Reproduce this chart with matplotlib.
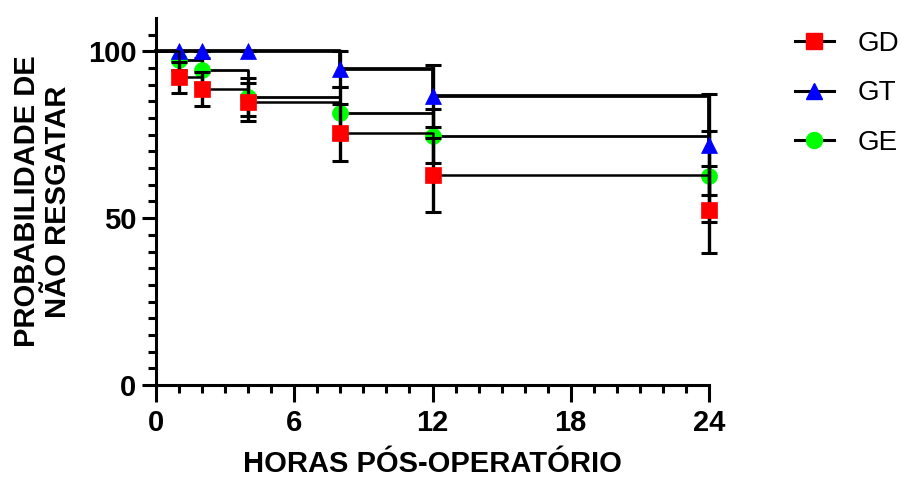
import matplotlib
matplotlib.use("Agg")
import matplotlib.pyplot as plt
from matplotlib.lines import Line2D
from matplotlib.ticker import FixedLocator

# hours after surgery (0 = start of curve, markers from 1 h on)
hours = [0, 1, 2, 4, 8, 12, 24]

# probability of no rescue (%) and error bars
gd = [100, 92.2, 88.7, 84.8, 75.6, 63.0, 52.5]
gd_err = [0, 4.7, 5.2, 5.8, 8.6, 11.0, 13.0]
gt = [100, 100, 100, 100, 94.6, 86.6, 72.0]
gt_err = [0, 0, 0, 0, 5.4, 9.2, 15.2]
ge = [100, 97.3, 94.3, 86.3, 81.6, 74.6, 62.5]
ge_err = [0, 2.8, 3.8, 5.8, 7.6, 8.2, 13.6]

xticks = [0, 6, 12, 18, 24]
yticks = [0, 50, 100]

label_font = ["Liberation Sans", "DejaVu Sans"]

fig = plt.figure(figsize=(9.02, 4.78), dpi=100)
ax = fig.add_axes([156 / 902, 1 - 385 / 478, 553 / 902, 367 / 478])

# series: (name, values, errors, marker, colour, step width, zorder)
series = [
    ("GE", ge, ge_err, "o", "#00ff00", 2.0, 3),
    ("GT", gt, gt_err, "^", "#0000ff", 2.7, 4),
    ("GD", gd, gd_err, "s", "#ff0000", 1.8, 5),
]

handles = {}
for name, vals, errs, mk, col, lw, z in series:
    ax.step(hours, vals, where="post", color="black", lw=lw, zorder=z, clip_on=False)
    eb = ax.errorbar(hours[1:], vals[1:], yerr=errs[1:], fmt=mk, ms=11.5,
                     markerfacecolor=col, markeredgecolor=col, markeredgewidth=0.5,
                     ecolor="black", elinewidth=2.4, capsize=5.5, capthick=2.2,
                     zorder=z, clip_on=False)
    for cap in eb[1]:
        cap.set_markeredgewidth(2.2)
        cap.set_markeredgecolor("black")
        cap.set_clip_on(False)
    for bar in eb[2]:
        bar.set_clip_on(False)
    handles[name] = Line2D([], [], color="black", lw=2.2, marker=mk, mfc=col,
                           mec=col, ms=11.5)

ax.set_xlim(0, 24)
ax.set_ylim(0, 110)
ax.set_xticks(xticks)
ax.set_yticks(yticks)
ax.xaxis.set_minor_locator(FixedLocator([h for h in range(1, 24) if h % 6]))
ax.yaxis.set_minor_locator(FixedLocator([v for v in range(5, 110, 5) if v % 50]))

for s in ["top", "right"]:
    ax.spines[s].set_visible(False)
for s in ["left", "bottom"]:
    ax.spines[s].set_linewidth(2.2)

ax.tick_params(which="major", length=10, width=2.2, pad=4)
ax.tick_params(which="minor", length=6, width=2.2)
ax.tick_params(axis="x", which="major", length=12, pad=5)
for lab in ax.get_xticklabels() + ax.get_yticklabels():
    lab.set_family(label_font)
    lab.set_fontweight("bold")
    lab.set_fontsize(21)

ax.set_xlabel("HORAS PÓS-OPERATÓRIO", family=label_font, fontweight="bold", fontsize=21)
ax.xaxis.set_label_coords(0.5, -0.178)
ax.set_ylabel("PROBABILIDADE DE\nNÃO RESGATAR", family=label_font, fontweight="bold",
              fontsize=21, linespacing=1.15, va="center")
ax.yaxis.set_label_coords(-0.205, 0.5)

leg = ax.legend([handles["GD"], handles["GT"], handles["GE"]], ["GD", "GT", "GE"],
                loc="upper left", bbox_to_anchor=(795 / 902, 1 - 31 / 478),
                bbox_transform=fig.transFigure, frameon=False, borderpad=0,
                borderaxespad=0, handlelength=1.4, handletextpad=0.85,
                labelspacing=0.84, prop={"family": label_font, "size": 20})

fig.savefig("out.png", dpi=100)
